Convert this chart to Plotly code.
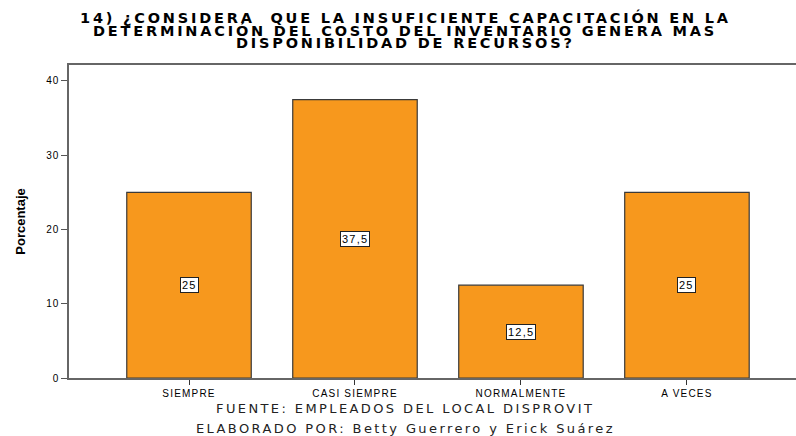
import plotly.graph_objects as go

categorias = ["SIEMPRE", "CASI SIEMPRE", "NORMALMENTE", "A VECES"]
porcentajes = [25, 37.5, 12.5, 25]
etiquetas = ["25", "37,5", "12,5", "25"]
titulo = [
    "14) ¿CONSIDERA  QUE LA INSUFICIENTE CAPACITACIÓN EN LA",
    "DETERMINACIÓN DEL COSTO DEL INVENTARIO GENERA MAS",
    "DISPONIBILIDAD DE RECURSOS?",
]
pie = [
    "FUENTE: EMPLEADOS DEL LOCAL DISPROVIT",
    "ELABORADO POR: Betty Guerrero y Erick Suárez",
]
ticks_y = [0, 10, 20, 30, 40]


def ancho(txt, esp):
    # el grafico original esta estirado en horizontal: se imita con letter-spacing
    return '<span style="letter-spacing:%spx">%s</span>' % (esp, txt)


x = list(range(len(categorias)))
FUENTE = "Arial, Liberation Sans"

fig = go.Figure()
fig.add_trace(go.Bar(
    x=x,
    y=porcentajes,
    width=0.75,
    marker=dict(color="#F7981D", line=dict(color="#3a3a3a", width=1.2)),
    hoverinfo="skip",
))

# etiquetas en caja blanca a media altura de cada barra
for xi, v, t in zip(x, porcentajes, etiquetas):
    fig.add_annotation(
        x=xi, y=v / 2, text=ancho(t, 1.2), showarrow=False,
        font=dict(family=FUENTE, size=11, color="black"),
        bgcolor="white", bordercolor="#222", borderwidth=1, borderpad=1,
    )

cx = (405 - 69) / 727
for i, linea in enumerate(titulo):
    fig.add_annotation(
        xref="paper", yref="paper", x=cx, y=1 + (65 - 17.5 - 13 * i) / 313,
        text="<b>" + ancho(linea, 2.8) + "</b>", showarrow=False,
        font=dict(family="DejaVu Sans", size=14.5, color="black"),
        xanchor="center", yanchor="middle",
    )

for i, linea in enumerate(pie):
    fig.add_annotation(
        xref="paper", yref="paper", x=cx, y=-(408 - 378 + 20 * i) / 313,
        text=ancho(linea, 2.4), showarrow=False,
        font=dict(family="DejaVu Sans", size=13, color="#222"),
        xanchor="center", yanchor="middle",
    )

fig.update_layout(
    width=796, height=436,
    margin=dict(l=69, r=0, t=65, b=58),
    paper_bgcolor="white", plot_bgcolor="white",
    showlegend=False,
    font=dict(family=FUENTE, color="black"),
)
fig.update_xaxes(
    range=[-0.723, 3.657],
    tickmode="array", tickvals=x, ticktext=[ancho(c, 1.2) for c in categorias],
    tickfont=dict(size=10),
    ticks="outside", ticklen=5, tickcolor="#333",
    showline=True, linecolor="#666", linewidth=1.5, mirror=True,
    showgrid=False, zeroline=False, automargin=False,
)
fig.update_yaxes(
    range=[0, 42.15],
    tickvals=ticks_y, ticktext=[ancho(str(t), 1) for t in ticks_y],
    tickfont=dict(size=10),
    ticks="outside", ticklen=6, tickcolor="#555",
    showline=True, linecolor="#666", linewidth=1.5,
    showgrid=False, zeroline=False, automargin=False,
    title=dict(text="<b>Porcentaje</b>", font=dict(family="Liberation Sans Narrow, Arial Narrow, Arial", size=13), standoff=18),
)

fig.write_html("out.html", config={"displayModeBar": False},
               post_script="document.body.style.margin='0';")
